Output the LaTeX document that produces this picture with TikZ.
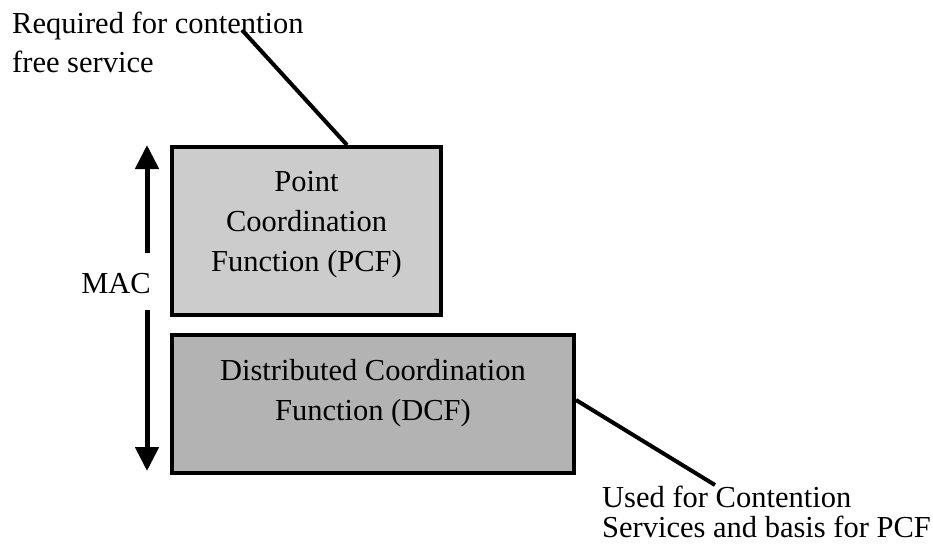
\documentclass[tikz,border=0pt]{standalone}
\usepackage{fontspec}
\setmainfont{Liberation Serif}
\usetikzlibrary{arrows.meta}
\definecolor{pcfgray}{HTML}{CCCCCC}
\definecolor{dcfgray}{HTML}{B3B3B3}
\tikzset{
  layerbox/.style={draw=black, line width=4pt, inner sep=0pt, anchor=north west},
  boxtext/.style={align=center, inner sep=0pt, font=\fontsize{30.5}{40}\selectfont},
  note/.style={align=left, inner sep=0pt, anchor=north west},
  leader/.style={line width=4pt},
  macarrow/.style={line width=5pt, -{Triangle[width=23pt,length=24pt]}},
}
\begin{document}
\begin{tikzpicture}[x=1pt, y=-1pt]
  \useasboundingbox (0,0) rectangle (933,544);

  % the two MAC sublayers
  \node[layerbox, fill=pcfgray, minimum width=269pt, minimum height=168pt] (pcf) at (170,145) {};
  \node[boxtext] (pcftext) at ([yshift=6pt]pcf.center) {Point\\Coordination\\Function (PCF)};
  \node[layerbox, fill=dcfgray, minimum width=402pt, minimum height=138pt] (dcf) at (170,333) {};
  \node[boxtext] (dcftext) at ([yshift=11pt]dcf.center) {Distributed Coordination\\Function (DCF)};

  % MAC extent arrow, split by its label
  \node[inner sep=0pt, anchor=base, font=\fontsize{30.5}{40}\selectfont] (mac) at (116,293) {MAC};
  \coordinate (macgaptop) at (147,253);
  \coordinate (macgapbot) at (147,310);
  \coordinate (mactop) at (147,145);
  \coordinate (macbot) at (147,471);
  \draw[macarrow] (macgaptop) -- (mactop);
  \draw[macarrow] (macgapbot) -- (macbot);

  % annotations
  \node[note, font=\fontsize{30.5}{39}\selectfont] (pcfnote) at (12,12) {Required for contention\\free service};
  \node[note, font=\fontsize{30.5}{30}\selectfont] (dcfnote) at (602,486) {Used for Contention\\Services and basis for PCF};
  \coordinate (pcfnoteend) at (242,30);
  \coordinate (dcfnoteend) at (715,485);
  \draw[leader] (pcf.north -| 347,0) -- (pcfnoteend);
  \draw[leader] (dcf.east |- 0,400) -- (dcfnoteend);
\end{tikzpicture}
\end{document}
